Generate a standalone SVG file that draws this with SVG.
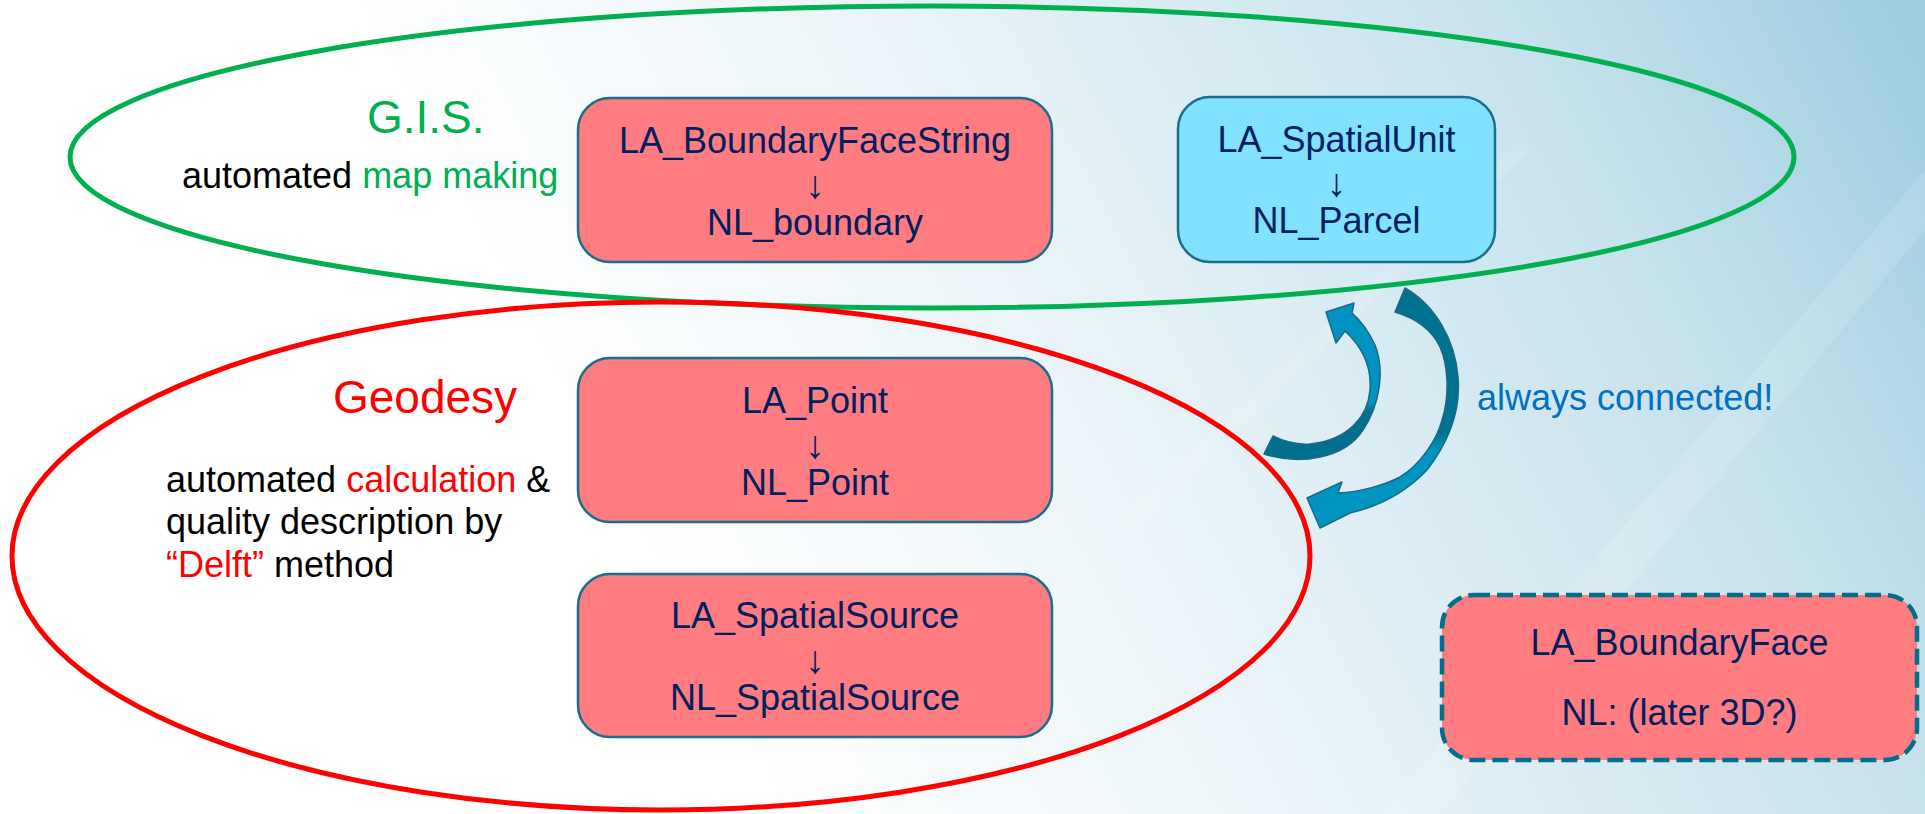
<svg xmlns="http://www.w3.org/2000/svg" width="1925" height="814" viewBox="0 0 1925 814">
<defs>
<linearGradient id="bg" gradientUnits="userSpaceOnUse" x1="700" y1="700" x2="1925" y2="50">
<stop offset="0" stop-color="#ffffff"/>
<stop offset="0.35" stop-color="#eaf4f8"/>
<stop offset="0.75" stop-color="#c6e2ec"/>
<stop offset="1" stop-color="#9ecee0"/>
</linearGradient>
<linearGradient id="gSmall" gradientUnits="userSpaceOnUse" x1="0" y1="300" x2="0" y2="460">
<stop offset="0" stop-color="#0093c1"/>
<stop offset="0.64" stop-color="#0093c1"/>
<stop offset="0.7" stop-color="#00708f"/>
<stop offset="1" stop-color="#00708f"/>
</linearGradient>
<linearGradient id="gBig" gradientUnits="userSpaceOnUse" x1="0" y1="288" x2="0" y2="530">
<stop offset="0" stop-color="#00728f"/>
<stop offset="0.6" stop-color="#00728f"/>
<stop offset="0.67" stop-color="#0094c0"/>
<stop offset="1" stop-color="#0094c0"/>
</linearGradient>
<style>
.box{stroke:#1b6e8c;stroke-width:2.5}
.pink{fill:#ff7c80}
.blue{fill:#80e2fe}
.t{font-family:"Liberation Sans",Arial,sans-serif;font-size:36px;fill:#002060;text-anchor:middle}
.dn{font-size:39px}
.lbl{font-family:"Liberation Sans",Arial,sans-serif;font-size:36px;fill:#000000}
.big{font-family:"Liberation Sans",Arial,sans-serif;font-size:46px}
.green{fill:#00b050}
.red{fill:#ff0000}
.arr{stroke:#1b6a86;stroke-width:1.5;stroke-linejoin:round}
</style>
</defs>
<rect x="0" y="0" width="1925" height="814" fill="url(#bg)"/>
<g opacity="0.12" fill="#ffffff">
<polygon points="1380,814 1925,170 1925,230 1440,814"/>
<polygon points="1120,520 1520,140 1530,150 1135,530"/>
</g>

<g id="region-gis">
<ellipse cx="932" cy="157" rx="862" ry="151" fill="none" stroke="#00b050" stroke-width="5"/>
<text class="big green" x="367" y="133">G.I.S.</text>
<text class="lbl" x="182" y="188">automated <tspan class="green">map making</tspan></text>
</g>

<g id="region-geodesy">
<ellipse cx="661" cy="556" rx="649" ry="254" fill="none" stroke="#ff0000" stroke-width="5"/>
<text class="big red" x="333" y="413">Geodesy</text>
<text class="lbl" x="166" y="492">automated <tspan class="red">calculation</tspan> &amp;</text>
<text class="lbl" x="166" y="534">quality description by</text>
<text class="lbl" x="166" y="577"><tspan class="red">“Delft”</tspan> method</text>
</g>

<g id="node-boundaryfacestring">
<rect class="box pink" x="578" y="98" width="474" height="164" rx="32"/>
<text class="t"><tspan x="815" y="153">LA_BoundaryFaceString</tspan><tspan class="dn" x="815" y="198">↓</tspan><tspan x="815" y="235">NL_boundary</tspan></text>
</g>

<g id="node-spatialunit">
<rect class="box blue" x="1178" y="97" width="317" height="165" rx="32"/>
<text class="t"><tspan x="1336.5" y="152">LA_SpatialUnit</tspan><tspan class="dn" x="1336.5" y="196">↓</tspan><tspan x="1336.5" y="233">NL_Parcel</tspan></text>
</g>

<g id="node-point">
<rect class="box pink" x="578" y="358" width="474" height="164" rx="32"/>
<text class="t"><tspan x="815" y="413">LA_Point</tspan><tspan class="dn" x="815" y="458">↓</tspan><tspan x="815" y="495">NL_Point</tspan></text>
</g>

<g id="node-spatialsource">
<rect class="box pink" x="578" y="574" width="474" height="163" rx="32"/>
<text class="t"><tspan x="815" y="628">LA_SpatialSource</tspan><tspan class="dn" x="815" y="673">↓</tspan><tspan x="815" y="710">NL_SpatialSource</tspan></text>
</g>

<g id="node-boundaryface">
<rect x="1442" y="595" width="475" height="165" rx="32" fill="#ff7c80" stroke="#006e8c" stroke-width="4.5" stroke-dasharray="16,7"/>
<text class="t" x="1679.5" y="655">LA_BoundaryFace</text>
<text class="t" x="1679.5" y="725">NL: (later 3D?)</text>
</g>

<g id="connectors">
<path class="arr" fill="url(#gSmall)" d="M1264,454 C1300,466 1345,458 1363,430 C1380,405 1385,370 1375,345 C1368,330 1360,320 1352,313 L1354,303 L1326,312 L1336,343 L1345,331 C1360,345 1372,365 1370,390 C1368,415 1350,440 1310,444 C1295,445 1283,441 1273,436 Z"/>
<path class="arr" fill="url(#gBig)" d="M1405,288 C1435,305 1455,340 1458,377 C1461,410 1450,440 1427,470 C1408,490 1385,505 1350,513 L1320,528 L1307,498 L1342,482 L1338,493 C1360,492 1385,485 1400,477 C1420,465 1437,440 1442,420 C1450,395 1448,365 1440,347 C1432,330 1415,318 1395,312 Z"/>
<text x="1477" y="410" font-family="'Liberation Sans',Arial,sans-serif" font-size="36" fill="#0070c0">always connected!</text>
</g>
</svg>
